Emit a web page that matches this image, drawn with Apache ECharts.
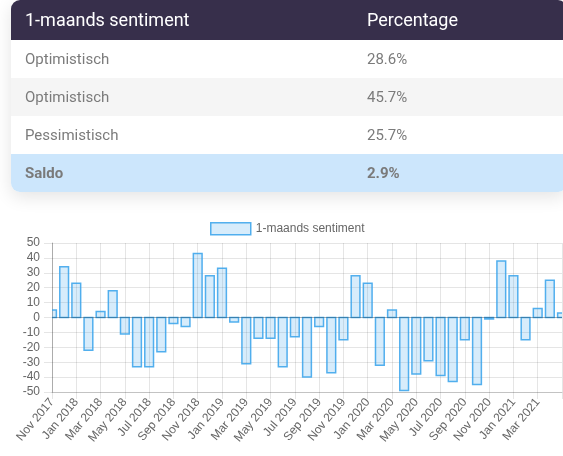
<!DOCTYPE html>
<html>
<head>
<meta charset="utf-8">
<script src="https://cdn.jsdelivr.net/npm/echarts@6/dist/echarts.min.js"></script>
<style>
  html, body { margin: 0; padding: 0; width: 563px; height: 456px; overflow: hidden; background: #fff; }
  #chart { position: absolute; left: 0; top: 0; width: 563px; height: 456px; z-index: 1; }
  #card { position: absolute; left: 11px; top: 0; width: 556px; border-radius: 9px; overflow: hidden;
          box-shadow: 0 5px 18px rgba(0,0,0,0.11); z-index: 2; background: #fff;
          font-family: Roboto, "Noto Sans", sans-serif; }
  .row { position: relative; height: 38px; line-height: 38px; font-size: 15px; color: #7b7b7b; }
  .row span { position: absolute; top: 0; }
  .row .c1 { left: 14px; }
  .row .c2 { left: 356px; }
  .head { height: 40px; line-height: 40px; background: #372f4b; color: #fff; font-size: 18px; }
  .alt { background: #f5f5f5; }
  .saldo { background: #cce6fc; font-weight: bold; color: #7a7a7a; }
</style>
</head>
<body>
<div id="chart"></div>
<div id="card"></div>
<script>
// ---- data ----
const tableHeader = ["1-maands sentiment", "Percentage"];
const tableLabels = ["Optimistisch", "Optimistisch", "Pessimistisch", "Saldo"];
const tableValues = ["28.6%", "45.7%", "25.7%", "2.9%"];

const categories = [
  "Nov 2017", "Dec 2017",
  "Jan 2018", "Feb 2018", "Mar 2018", "Apr 2018", "May 2018", "Jun 2018",
  "Jul 2018", "Aug 2018", "Sep 2018", "Oct 2018", "Nov 2018", "Dec 2018",
  "Jan 2019", "Feb 2019", "Mar 2019", "Apr 2019", "May 2019", "Jun 2019",
  "Jul 2019", "Aug 2019", "Sep 2019", "Oct 2019", "Nov 2019", "Dec 2019",
  "Jan 2020", "Feb 2020", "Mar 2020", "Apr 2020", "May 2020", "Jun 2020",
  "Jul 2020", "Aug 2020", "Sep 2020", "Oct 2020", "Nov 2020", "Dec 2020",
  "Jan 2021", "Feb 2021", "Mar 2021", "Apr 2021", "May 2021"
];
const sentiment = [
  5, 34,
  23, -22, 4, 18, -11, -33, -33, -23, -4, -6, 43, 28,
  33, -3, -31, -14, -14, -33, -13, -40, -6, -37, -15, 28,
  23, -32, 5, -49, -38, -29, -39, -43, -15, -45, -1, 38,
  28, -15, 6, 25, 3
];
const seriesName = "1-maands sentiment";
const yMin = -50, yMax = 50, yStep = 10;

// ---- table ----
const card = document.getElementById('card');
let html = '<div class="row head"><span class="c1">' + tableHeader[0] + '</span><span class="c2">' + tableHeader[1] + '</span></div>';
tableLabels.forEach((lab, i) => {
  let cls = 'row';
  if (i === 1) cls += ' alt';
  if (i === tableLabels.length - 1) cls += ' saldo';
  html += '<div class="' + cls + '"><span class="c1">' + lab + '</span><span class="c2">' + tableValues[i] + '</span></div>';
});
card.innerHTML = html;

// ---- chart ----
const font = '"Liberation Sans", Arial, Helvetica, sans-serif';
const gridColor = 'rgba(0,0,0,0.1)';
const barFill = 'rgba(54,162,235,0.2)';
const barBorder = 'rgba(54,162,235,0.85)';
const lastIdx = categories.length - 1;

const chart = echarts.init(document.getElementById('chart'), null, { renderer: 'canvas' });
chart.setOption({
  animation: false,
  backgroundColor: 'transparent',
  textStyle: { fontFamily: font },
  legend: {
    top: 222,
    left: 210,
    padding: 0,
    itemWidth: 40,
    itemHeight: 12,
    itemGap: 10,
    icon: 'rect',
    textStyle: { color: '#666', fontSize: 12, fontFamily: font },
    itemStyle: { color: barFill, borderColor: barBorder, borderWidth: 1.5 },
    data: [seriesName]
  },
  grid: { left: 52, right: 1, top: 243, bottom: 64, containLabel: false },
  xAxis: {
    type: 'category',
    data: categories,
    boundaryGap: false,
    axisLine: { onZero: false, lineStyle: { color: 'rgba(0,0,0,0.15)', width: 1 } },
    axisTick: { show: true, interval: 1, length: 7, lineStyle: { color: gridColor } },
    splitLine: { show: true, interval: 1, lineStyle: { color: gridColor, width: 1 } },
    axisLabel: {
      interval: function (idx) { return idx % 2 === 0 && idx < lastIdx; },
      rotate: 50, color: '#666', fontSize: 12, fontFamily: font, margin: 8
    }
  },
  yAxis: {
    type: 'value',
    min: yMin, max: yMax, interval: yStep,
    axisLine: { show: true, lineStyle: { color: 'rgba(0,0,0,0.25)', width: 1 } },
    axisTick: { show: true, length: 8, lineStyle: { color: gridColor } },
    splitLine: { show: true, lineStyle: { color: gridColor, width: 1 } },
    axisLabel: { color: '#666', fontSize: 12, fontFamily: font, margin: 12 }
  },
  series: [{
    name: seriesName,
    type: 'custom',
    clip: true,
    data: sentiment.map((v, i) => [i, v]),
    encode: { x: 0, y: 1 },
    itemStyle: { color: barFill, borderColor: barBorder },
    renderItem: function (params, api) {
      const idx = api.value(0);
      const val = api.value(1);
      const base = api.coord([idx, 0]);
      const top = api.coord([idx, val]);
      const band = api.size([1, 0])[0];
      const w = band * 0.72;
      return {
        type: 'rect',
        shape: { x: base[0] - w / 2, y: Math.min(base[1], top[1]), width: w, height: Math.abs(top[1] - base[1]) },
        style: { fill: barFill, stroke: barBorder, lineWidth: 1.5 }
      };
    },
    markLine: {
      silent: true,
      symbol: 'none',
      label: { show: false },
      lineStyle: { color: 'rgba(0,0,0,0.25)', width: 1, type: 'solid' },
      data: [{ yAxis: 0 }]
    }
  }]
});
</script>
</body>
</html>
